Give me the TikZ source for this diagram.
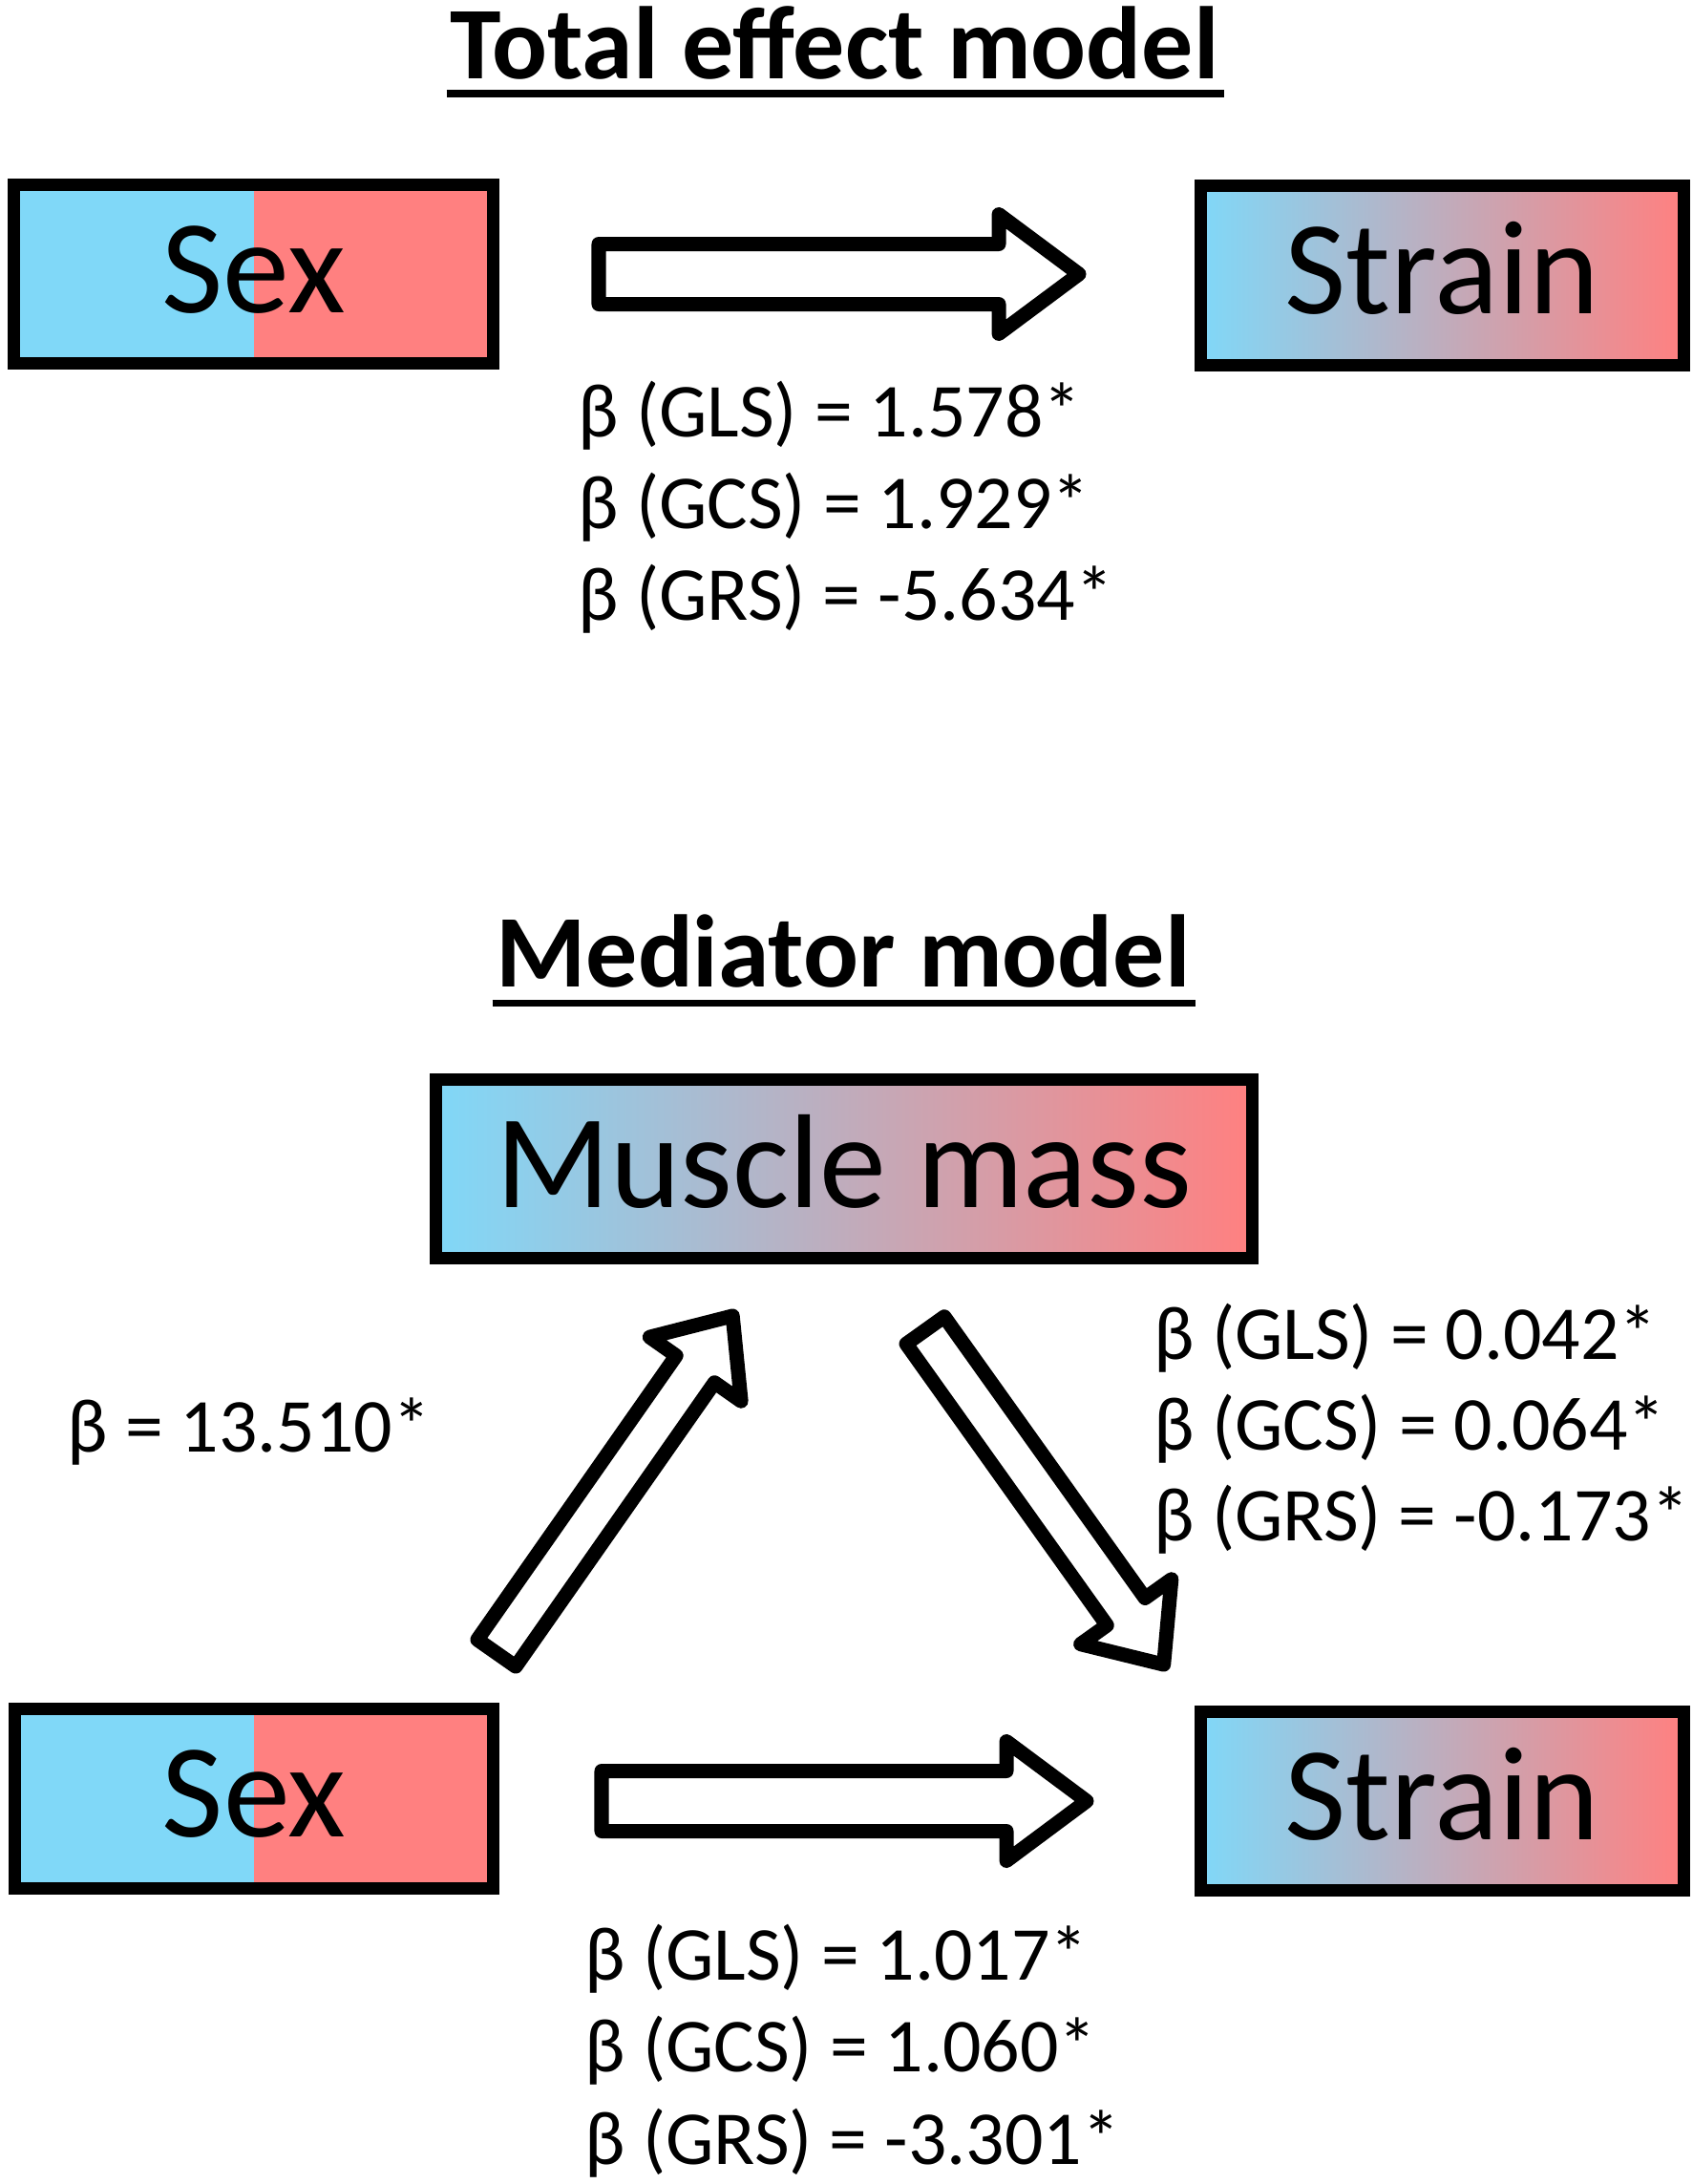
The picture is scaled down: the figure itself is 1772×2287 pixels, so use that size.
\documentclass[tikz,border=0pt]{standalone}
\usepackage{fontspec}
\setmainfont{Carlito}
\usetikzlibrary{calc}
\definecolor{sexblue}{RGB}{128,216,248}
\definecolor{sexred}{RGB}{255,128,128}
\begin{document}
\begin{tikzpicture}[x=0.01cm,y=-0.01cm,
  box/.style={draw=black, line width=3.7pt, inner sep=0pt, text height=0.8cm, text depth=0pt,
    font=\fontsize{39.8pt}{48pt}\selectfont, minimum height=1.87cm},
  sexbox/.style={box, path picture={
    \fill[sexblue] (path picture bounding box.north west) rectangle (path picture bounding box.south);
    \fill[sexred] (path picture bounding box.north) rectangle (path picture bounding box.south east);}},
  gradbox/.style={box, left color=sexblue, right color=sexred},
  lab/.style={anchor=base west, inner sep=0pt, font=\fontsize{22.7pt}{27pt}\selectfont},
  ttl/.style={anchor=base, inner sep=0pt, font=\bfseries\fontsize{30.7pt}{36pt}\selectfont},
  uline/.style={line width=2pt},
  arrowline/.style={draw=black, fill=white, line width=4.27pt, line join=round},
  pics/blockarrow/.style args={#1/#2/#3/#4}{code={
    \draw[arrowline] (0,-#3) -- ({#1-#2},-#3) -- ({#1-#2},-#4) -- (#1,0)
      -- ({#1-#2},#4) -- ({#1-#2},#3) -- (0,#3) -- cycle;}}
]
\useasboundingbox[fill=white] (0,0) rectangle (1772,2287);

% ---------- Total effect model ----------
\node[ttl] (t1) at (874,82) {Total effect model};
\draw[uline] ($(t1.base west)+(-3,16)$) -- ($(t1.base east)+(5,16)$);

\node[sexbox, minimum width=5.02cm] (sex1) at (265.5,287) {Sex};
\node[gradbox, minimum width=5.06cm] (strain1) at (1510.5,288.5) {Strain};

\coordinate (aT) at (627,287);
\pic at (aT) {blockarrow=503/84/31.5/62.5};

\node[lab] (l1a) at (605,457) {β (GLS) = 1.578*};
\node[lab] (l1b) at (605,553) {β (GCS) = 1.929*};
\node[lab] (l1c) at (605,649) {β (GRS) = -5.634*};

% ---------- Mediator model ----------
\node[ttl] (t2) at (883,1033) {Mediator model};
\draw[uline] ($(t2.base west)+(-3,17)$) -- ($(t2.base east)+(5,17)$);

\node[gradbox, minimum width=8.55cm] (muscle) at (884,1224) {Muscle mass};
\node[sexbox, minimum width=5.01cm] (sex2) at (266,1883.5) {Sex};
\node[gradbox, minimum width=5.06cm] (strain2) at (1510.5,1886) {Strain};

\coordinate (aL) at (520,1731);
\pic[rotate=55] at (aL) {blockarrow=431/68/24.5/58.5};
\coordinate (aR) at (969,1393);
\pic[rotate=-54.5] at (aR) {blockarrow=430/68/24.5/58.5};
\coordinate (aB) at (630,1886);
\pic at (aB) {blockarrow=508/84/31.5/62.5};

\node[lab] (l2) at (70,1520) {β = 13.510*};

\node[lab] (l3a) at (1208,1423) {β (GLS) = 0.042*};
\node[lab] (l3b) at (1208,1518) {β (GCS) = 0.064*};
\node[lab] (l3c) at (1208,1613) {β (GRS) = -0.173*};

\node[lab] (l4a) at (612,2073) {β (GLS) = 1.017*};
\node[lab] (l4b) at (612,2169) {β (GCS) = 1.060*};
\node[lab] (l4c) at (612,2266) {β (GRS) = -3.301*};
\end{tikzpicture}
\end{document}
